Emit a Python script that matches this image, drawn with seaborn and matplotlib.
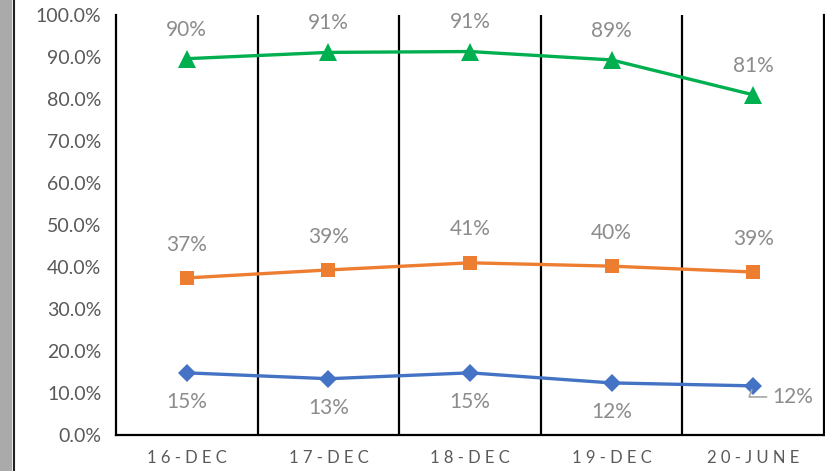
import numpy as np
import pandas as pd
import matplotlib
matplotlib.use("Agg")
import matplotlib.pyplot as plt
from matplotlib.lines import Line2D
from matplotlib.patches import Rectangle
import seaborn as sns

# Data
periods = ["16-DEC", "17-DEC", "18-DEC", "19-DEC", "20-JUNE"]
green_vals = [0.896, 0.911, 0.913, 0.893, 0.810]
orange_vals = [0.374, 0.393, 0.410, 0.402, 0.388]
blue_vals = [0.148, 0.134, 0.148, 0.124, 0.117]

series_names = ["Green", "Orange", "Blue"]
colors = {"Green": "#00B050", "Orange": "#ED7D31", "Blue": "#4472C4"}
markers = {"Green": "^", "Orange": "s", "Blue": "D"}

sns.set_style("white")
plt.rcParams['font.family'] = ['Lato', 'DejaVu Sans']

rows = []
for name, vals in zip(series_names, [green_vals, orange_vals, blue_vals]):
    for i, v in enumerate(vals):
        rows.append({"pos": i, "value": v, "series": name})
df = pd.DataFrame(rows)

fig = plt.figure(figsize=(8.25, 4.71), dpi=100)
ax = fig.add_axes([116 / 825, 1 - 435 / 471, (824 - 116) / 825, (435 - 15) / 471])

sns.lineplot(data=df, x="pos", y="value", hue="series", style="series",
             palette=colors, markers=markers, dashes=False, linewidth=2.4,
             markersize=11, markeredgewidth=0, ax=ax, legend=False)

# marker sizes per series
sizes = {"^": 12.5, "s": 10.5, "D": 9.5}
for ln in ax.lines:
    m = ln.get_marker()
    if m in sizes:
        ln.set_markersize(sizes[m])

ax.set_xlim(-0.5, 4.5)
ax.set_ylim(0, 1.0)
ax.set_yticks(np.arange(0, 1.01, 0.1))
ax.set_yticklabels([f"{t * 100:.1f}%" for t in np.arange(0, 1.01, 0.1)])
ax.set_xticks(range(len(periods)))
ax.set_xticklabels([" ".join(p) for p in periods])
ax.set_xlabel("")
ax.set_ylabel("")

ax.tick_params(axis="y", direction="inout", length=9, width=1.5, colors="black",
               labelcolor="#595959", labelsize=14, pad=6)
ax.tick_params(axis="x", length=0, labelcolor="#595959", labelsize=12, pad=11)

for side in ["left", "bottom", "right"]:
    ax.spines[side].set_color("black")
    ax.spines[side].set_linewidth(1.6)
ax.spines["top"].set_visible(False)

for b in [0.5, 1.5, 2.5, 3.5]:
    ax.axvline(b, color="black", lw=1.6, zorder=0)

lab_color = "#8c8c8c"
fs = 15
for i, v in enumerate(green_vals):
    ax.annotate(f"{round(v * 100)}%", (i, v), xytext=(0, 21), textcoords="offset points",
                ha="center", va="center", color=lab_color, fontsize=fs)
for i, v in enumerate(orange_vals):
    ax.annotate(f"{round(v * 100)}%", (i, v), xytext=(0, 24), textcoords="offset points",
                ha="center", va="center", color=lab_color, fontsize=fs)
for i, v in enumerate(blue_vals[:-1]):
    ax.annotate(f"{round(v * 100)}%", (i, v), xytext=(0, -21), textcoords="offset points",
                ha="center", va="center", color=lab_color, fontsize=fs)
last = len(blue_vals) - 1
ax.annotate(f"{round(blue_vals[last] * 100)}%", (last, blue_vals[last]), xytext=(14, -8),
            textcoords="offset points", ha="left", va="center", color=lab_color, fontsize=fs,
            arrowprops=dict(arrowstyle="-", color="#a6a6a6", lw=1.2,
                            connectionstyle="angle,angleA=0,angleB=70,rad=0",
                            shrinkA=2, shrinkB=3))

# window border on the left
fig.patches.append(Rectangle((0, 0), 11 / 825, 1, transform=fig.transFigure,
                             color="#aaaaaa", zorder=0))
fig.lines.append(Line2D([14 / 825, 14 / 825], [0, 1], transform=fig.transFigure,
                        color="#222222", lw=1.5))

fig.savefig("out.png", dpi=100)
